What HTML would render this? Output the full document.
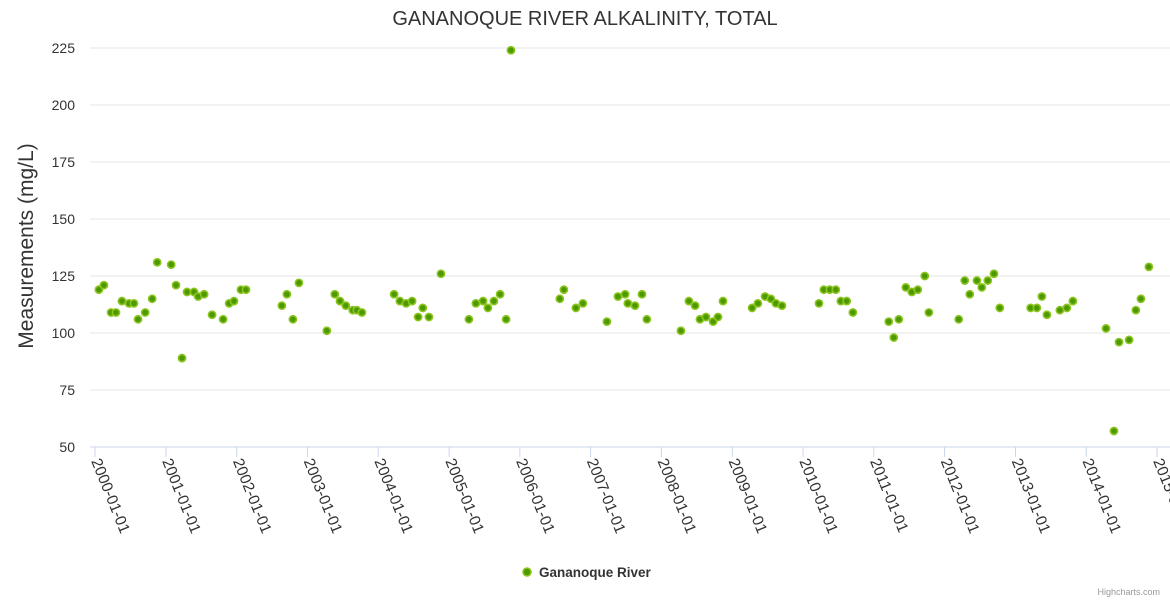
<!DOCTYPE html>
<html><head><meta charset="utf-8"><style>
body{margin:0;background:#fff;}
svg{display:block;font-family:"Liberation Sans",sans-serif;}
</style></head><body>
<svg id="chart" width="1170" height="600">
<text x="585" y="25" text-anchor="middle" font-size="20" fill="#333">GANANOQUE RIVER ALKALINITY, TOTAL</text>
<text transform="translate(33,246) rotate(-90)" text-anchor="middle" font-size="21" fill="#333">Measurements (mg/L)</text>
<g id="grid"></g><g id="xaxis"></g><g id="pts"></g>
<g>
<circle cx="527" cy="572" r="4" fill="#4d9a00" stroke="#8cc420" stroke-width="1.5"/>
<text x="539" y="577" font-size="13.5" font-weight="bold" fill="#333">Gananoque River</text>
</g>
<text x="1160" y="595" text-anchor="end" font-size="9" fill="#999">Highcharts.com</text>
</svg>
<script>
const dates=["2000-01-21","2000-02-16","2000-03-24","2000-04-18","2000-05-19","2000-06-25","2000-07-20","2000-08-10","2000-09-16","2000-10-22","2000-11-17","2001-01-28","2001-02-22","2001-03-25","2001-04-20","2001-05-26","2001-06-16","2001-07-17","2001-08-27","2001-10-23","2001-11-23","2001-12-18","2002-01-23","2002-02-18","2002-08-22","2002-09-17","2002-10-18","2002-11-18","2003-04-11","2003-05-22","2003-06-18","2003-07-18","2003-08-23","2003-09-13","2003-10-09","2004-03-23","2004-04-22","2004-05-24","2004-06-24","2004-07-25","2004-08-18","2004-09-19","2004-11-20","2005-04-13","2005-05-19","2005-06-25","2005-07-20","2005-08-20","2005-09-21","2005-10-22","2005-11-16","2006-07-26","2006-08-16","2006-10-17","2006-11-22","2007-03-26","2007-05-22","2007-06-28","2007-07-12","2007-08-18","2007-09-23","2007-10-18","2008-04-11","2008-05-22","2008-06-23","2008-07-18","2008-08-18","2008-09-24","2008-10-19","2008-11-14","2009-04-13","2009-05-13","2009-06-19","2009-07-19","2009-08-14","2009-09-14","2010-03-24","2010-04-18","2010-05-19","2010-06-19","2010-07-15","2010-08-14","2010-09-15","2011-03-19","2011-04-14","2011-05-10","2011-06-15","2011-07-16","2011-08-16","2011-09-21","2011-10-12","2012-03-14","2012-04-14","2012-05-10","2012-06-16","2012-07-11","2012-08-11","2012-09-12","2012-10-12","2013-03-20","2013-04-21","2013-05-17","2013-06-12","2013-08-18","2013-09-23","2013-10-24","2014-04-13","2014-05-24","2014-06-19","2014-08-10","2014-09-14","2014-10-10","2014-11-20"];
const values=[119,121,109,109,114,113,113,106,109,115,131,130,121,89,118,118,116,117,108,106,113,114,119,119,112,117,106,122,101,117,114,112,110,110,109,117,114,113,114,107,111,107,126,106,113,114,111,114,117,106,224,115,119,111,113,105,116,117,113,112,117,106,101,114,112,106,107,105,107,114,111,113,116,115,113,112,113,119,119,119,114,114,109,105,98,106,120,118,119,125,109,106,123,117,123,120,123,126,111,111,111,116,108,110,111,114,102,57,96,97,110,115,129];
const yTicks=[50,75,100,125,150,175,200,225];
const xTickYears=[2000,2001,2002,2003,2004,2005,2006,2007,2008,2009,2010,2011,2012,2013,2014,2015];
const NS="http://www.w3.org/2000/svg";
const t0=Date.UTC(2000,0,1),t1=Date.UTC(2015,0,1);
function xs(t){return 95+(t-t0)/(t1-t0)*1062;}
function ys(v){return 447-(v-50)/175*399;}
function mk(tag,attrs,parent){const e=document.createElementNS(NS,tag);for(const k in attrs)e.setAttribute(k,attrs[k]);parent.appendChild(e);return e;}
const grid=document.getElementById('grid');
yTicks.forEach(v=>{
 const l=mk('line',{x1:90,x2:1170,y1:ys(v),y2:ys(v),stroke:v===50?'#ccd6eb':'#e6e6e6','stroke-width':1},grid);
 
 
 const t=mk('text',{x:75,y:ys(v)+5,'text-anchor':'end','font-size':14,fill:'#333'},grid);
 t.textContent=v;
 
 
});
const xa=document.getElementById('xaxis');
xTickYears.forEach(y=>{
 const x=xs(Date.UTC(y,0,1));
 const l=mk('line',{x1:x,x2:x,y1:447,y2:457,stroke:'#ccd6eb'},xa);
 
 
 const t=mk('text',{x:0,y:0,'font-size':15.5,fill:'#333',transform:`translate(${x-4},${461}) rotate(68)`},xa);
 t.textContent=y+'-01-01';
 
 
});
const pts=document.getElementById('pts');
dates.forEach((d,i)=>{
 const p=d.split('-').map(Number);
 const c=mk('circle',{cx:xs(Date.UTC(p[0],p[1]-1,p[2])),cy:ys(values[i]),r:3.6,fill:'#4d9a00',stroke:'#8cc420','stroke-width':1.6},pts);
 
 
});
</script>
</body></html>
